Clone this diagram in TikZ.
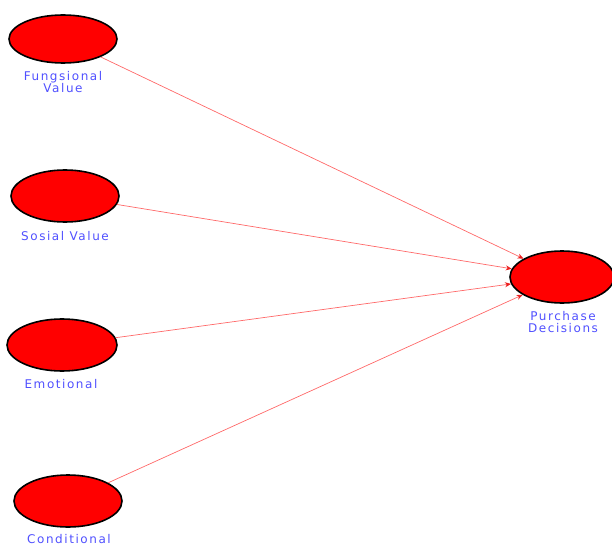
\documentclass[tikz,border=0pt]{standalone}
\usepackage{fontspec}
\setmainfont{DejaVu Sans}[LetterSpace=13]
\usetikzlibrary{shapes.geometric,arrows.meta}
\definecolor{lvfill}{RGB}{255,0,0}
\definecolor{lvtext}{RGB}{80,80,255}
\definecolor{lvline}{RGB}{255,105,105}
\definecolor{lvtip}{RGB}{235,30,30}
\tikzset{
  lv/.style={ellipse,draw=black,line width=1.6pt,fill=lvfill,inner sep=0pt},
  lvlab/.style={text=lvtext,font=\fontsize{12}{12}\selectfont,align=center,inner sep=0pt,anchor=base},
  path/.style={draw=lvline,line width=0.7pt,-{Stealth[length=6pt,width=5pt,color=lvtip]}}
}
\begin{document}
\begin{tikzpicture}[x=1pt,y=-1pt]
\useasboundingbox (0,0) rectangle (612,545);
\clip (0,0) rectangle (612,545);
\node[lv,minimum width=108pt,minimum height=48pt] (f) at (63,39) {};
\node[lv,minimum width=108pt,minimum height=52pt] (s) at (65,196) {};
\node[lv,minimum width=110pt,minimum height=52pt] (e) at (62,345) {};
\node[lv,minimum width=108pt,minimum height=52pt] (c) at (68,501) {};
\node[lv,minimum width=104pt,minimum height=52pt] (p) at (562,277) {};
\node[lvlab] (fl) at (63,93) {Fungsional\\Value};
\node[lvlab] (sl) at (65,240) {Sosial Value};
\node[lvlab] (el) at (61,388) {Emotional};
\node[lvlab] (cl) at (69,543) {Conditional};
\node[lvlab] (pl) at (563,332) {Purchase\\Decisions};
\draw[path] (f) -- (p);
\draw[path] (s) -- (p);
\draw[path] (e) -- (p);
\draw[path] (c) -- (p);
\end{tikzpicture}
\end{document}
